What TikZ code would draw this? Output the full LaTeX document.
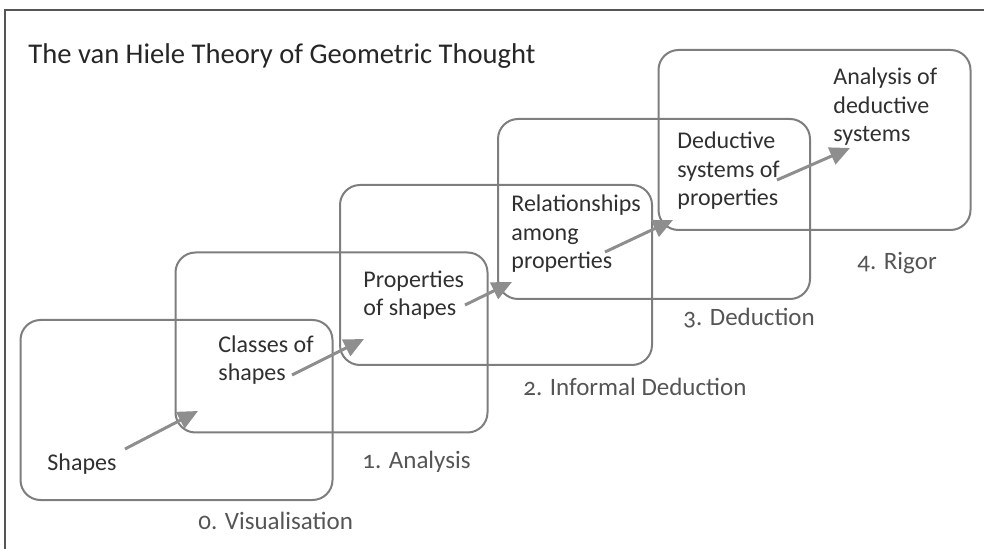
\documentclass[tikz,border=0pt]{standalone}
\usepackage{fontspec}
\setmainfont{Carlito}[Numbers=OldStyle]
\usetikzlibrary{calc}
\usetikzlibrary{arrows.meta}
\usetikzlibrary{positioning}

\definecolor{framegray}{HTML}{555555}
\definecolor{boxgray}{HTML}{7E7E7E}
\definecolor{arrowgray}{HTML}{8E8E8E}
\definecolor{textgray}{HTML}{303030}
\definecolor{stagegray}{HTML}{555555}

\tikzset{
  levelbox/.style={draw=boxgray, line width=1pt, rounded corners=10pt,
    minimum width=156pt, minimum height=90pt, inner sep=0pt},
  boxtext/.style={font=\fontsize{12}{14.25}\selectfont, text=textgray,
    align=left, inner sep=0pt, anchor=base west},
  stage/.style={font=\fontsize{12.5}{15}\selectfont, text=stagegray,
    inner sep=0pt, anchor=base west},
  lift/.style={draw=arrowgray, line width=1.5pt,
    -{Triangle[length=10pt, width=9pt]}},
}

\begin{document}
\begin{tikzpicture}[x=0.5pt, y=-0.5pt]
    \useasboundingbox (0,0) rectangle (984,549);
    \draw[framegray, line width=0.8pt] (5,549) -- (5,10) -- (984,10);

    \node[anchor=base west, inner sep=0pt, text=black!85,
      font=\fontsize{14.3}{17}\selectfont] (title) at (28,64)
      {The van Hiele Theory of Geometric Thought};

    % the five levels
    \node[levelbox] (vis) at (176.5,410) {};
    \node[levelbox] (ana) at (331.5,342.5) {};
    \node[levelbox] (inf) at (496,275) {};
    \node[levelbox] (ded) at (654,209) {};
    \node[levelbox] (rig) at (814.5,140) {};

    % what each level works on (base = last line)
    \node[boxtext] (shapes) at (47,471) {Shapes};
    \node[boxtext] (classes) at (218,381) {Classes of\\shapes};
    \node[boxtext] (props) at (363,316) {Properties\\of shapes};
    \node[boxtext] (relations) at (511,269) {Relationships\\among\\properties};
    \node[boxtext] (dedsys) at (677,206) {Deductive\\systems of\\properties};
    \node[boxtext] (axioms) at (833,142) {Analysis of\\deductive\\systems};

    \node[stage] (lvl0) at (198,529) {0. Visualisation};
    \node[stage] (lvl1) at (362,468) {1. Analysis};
    \node[stage] (lvl2) at (523,396) {2. Informal Deduction};
    \node[stage] (lvl3) at (683,326) {3. Deduction};
    \node[stage] (lvl4) at (857,270) {4. Rigor};

    % arrows between levels
    \coordinate (from1) at (125,449);
    \coordinate (to1) at (198,411);
    \coordinate (from2) at (292,375);
    \coordinate (to2) at (364,339);
    \coordinate (from3) at (465,305);
    \coordinate (to3) at (512,282);
    \coordinate (from4) at (605,252);
    \coordinate (to4) at (673,220);
    \coordinate (from5) at (777,180);
    \coordinate (to5) at (850,148);
    \draw[lift] (from1) -- (to1);
    \draw[lift] (from2) -- (to2);
    \draw[lift] (from3) -- (to3);
    \draw[lift] (from4) -- (to4);
    \draw[lift] (from5) -- (to5);

  \end{tikzpicture}
\end{document}
